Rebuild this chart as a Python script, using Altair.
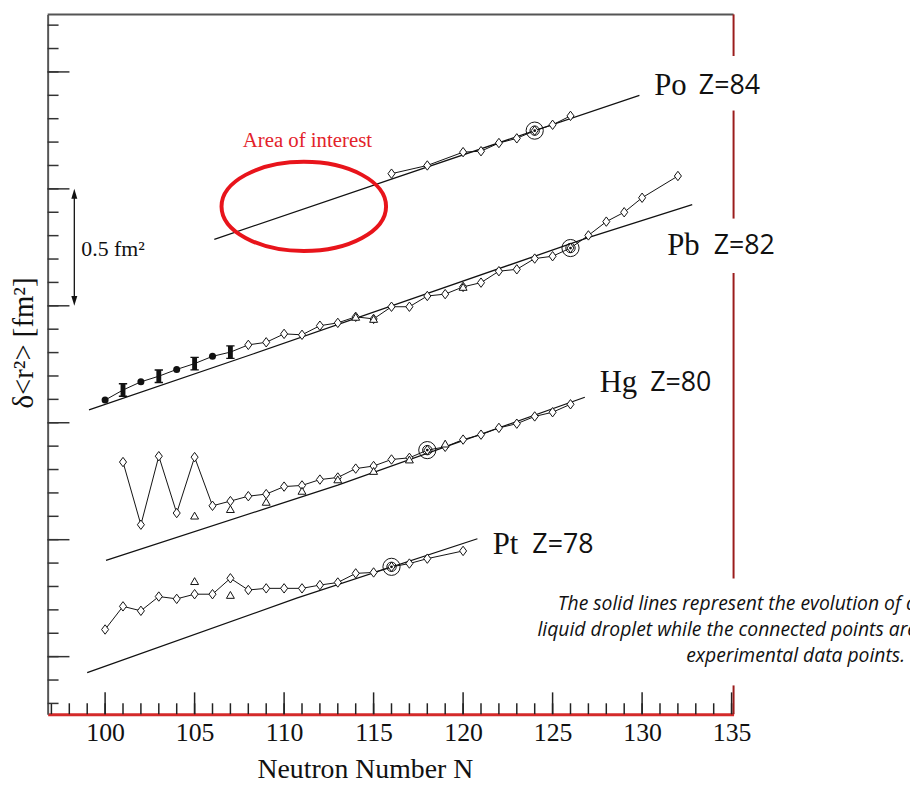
import altair as alt
import pandas as pd

# ---------------- data (delta<r^2>, fm^2, arbitrary offset) ----------------
po_n = [116, 118, 120, 121, 122, 123, 124, 125, 126]
po_v = [2.065, 2.100, 2.157, 2.161, 2.196, 2.216, 2.249, 2.274, 2.312]

pb_n = list(range(100, 131)) + [132]
pb_v = [1.097, 1.140, 1.175, 1.199, 1.228, 1.253, 1.284, 1.302, 1.333, 1.344,
        1.380, 1.376, 1.415, 1.427, 1.453, 1.444, 1.496, 1.496, 1.542, 1.550,
        1.581, 1.599, 1.648, 1.656, 1.702, 1.712, 1.747, 1.801, 1.860, 1.900,
        1.962, 2.055]
pb_circle_n = [100, 102, 104, 106]
pb_bar_n = [101, 103, 105, 107]
pb_tri_n = [114, 115, 120]

hg_n = list(range(101, 127))
hg_v = [0.832, 0.564, 0.857, 0.614, 0.853, 0.645, 0.665, 0.686, 0.695, 0.727,
        0.732, 0.757, 0.766, 0.804, 0.815, 0.843, 0.850, 0.883, 0.897, 0.928,
        0.949, 0.978, 0.996, 1.027, 1.045, 1.079]
hg_tri_n = [105, 107, 109, 111, 113, 115, 117, 119]
hg_tri_v = [0.603, 0.631, 0.662, 0.709, 0.758, 0.794, 0.843, 0.911]

pt_n = list(range(100, 119)) + [120]
pt_v = [0.116, 0.215, 0.196, 0.257, 0.247, 0.267, 0.267, 0.335, 0.285, 0.292,
        0.292, 0.292, 0.306, 0.317, 0.356, 0.360, 0.384, 0.398, 0.419, 0.452]
pt_tri_n = [105, 107]
pt_tri_v = [0.323, 0.264]

ref_chain = ["Pt", "Hg", "Pb", "Po"]
ref_n = [116, 118, 126, 124]

# liquid-drop curves
ld_po_n = [106.1, 116.0, 129.85]
ld_po_v = [1.784, 2.042, 2.400]
ld_pb_n = [99.1, 108.3, 126.9, 132.8]
ld_pb_v = [1.055, 1.295, 1.789, 1.933]
ld_hg_n = [100.05, 113.0, 126.8]
ld_hg_v = [0.412, 0.733, 1.109]
ld_pt_n = [99.0, 110.7, 120.8]
ld_pt_v = [-0.068, 0.250, 0.504]

x_labels = [100, 105, 110, 115, 120, 125, 130, 135]
x_minor = list(range(97, 136))
y_minor = [-0.2, -0.1, 0.0, 0.1, 0.2, 0.3, 0.4, 0.5, 0.6, 0.7, 0.8, 0.9, 1.0, 1.1, 1.2,
           1.3, 1.4, 1.5, 1.6, 1.7, 1.8, 1.9, 2.0, 2.1, 2.2, 2.3, 2.4, 2.5, 2.6, 2.7]
y_major = [0.0, 0.5, 1.0, 1.5, 2.0, 2.5]

# ---------------- tables ----------------
def chain_df(name, n, v):
    return pd.DataFrame({"chain": name, "N": n, "v": v})

exp = pd.concat([chain_df("Po", po_n, po_v), chain_df("Pb", pb_n, pb_v),
                 chain_df("Hg", hg_n, hg_v), chain_df("Pt", pt_n, pt_v)], ignore_index=True)
ld = pd.concat([chain_df("Po", ld_po_n, ld_po_v), chain_df("Pb", ld_pb_n, ld_pb_v),
                chain_df("Hg", ld_hg_n, ld_hg_v), chain_df("Pt", ld_pt_n, ld_pt_v)], ignore_index=True)

pb_special = exp[(exp.chain == "Pb") & (exp.N.isin(pb_circle_n + pb_bar_n))]
diam = exp.drop(pb_special.index)
circ = exp[(exp.chain == "Pb") & (exp.N.isin(pb_circle_n))]
bars = exp[(exp.chain == "Pb") & (exp.N.isin(pb_bar_n))]
tri = pd.concat([exp[(exp.chain == "Pb") & (exp.N.isin(pb_tri_n))][["chain", "N", "v"]],
                 chain_df("Hg", hg_tri_n, hg_tri_v), chain_df("Pt", pt_tri_n, pt_tri_v)],
                ignore_index=True)
refs = pd.concat([exp[(exp.chain == c) & (exp.N == n)] for c, n in zip(ref_chain, ref_n)])

# ---------------- scales / axes ----------------
xs = alt.Scale(domain=[96.79, 135.11], nice=False, zero=False)
ys = alt.Scale(domain=[-0.246, 2.746], nice=False, zero=False)
x_axis = alt.Axis(values=x_labels, ticks=False, grid=False, domainColor="#d42a2a", domainWidth=3,
                  labelFont="Liberation Serif", labelFontSize=26, labelColor="#111",
                  labelPadding=6, labelOverlap=False, labelFlush=False,
                  title="Neutron Number N", titleFont="Liberation Serif", titleFontSize=28,
                  titleFontWeight="normal", titleColor="#111", titleX=320, titleY=64,
                  titleAlign="center", titleBaseline="alphabetic")
y_axis = alt.Axis(labels=False, ticks=False, grid=False, domainColor="#555", domainWidth=2,
                  title="δ<r²> [fm²]", titleFont="Liberation Serif", titleFontSize=29,
                  titleFontWeight="normal", titleColor="#111", titleX=-24, titleY=331,
                  titleAngle=270, titleAlign="center", titleBaseline="middle")
X = alt.X("N:Q", scale=xs, axis=x_axis)
Y = alt.Y("v:Q", scale=ys, axis=y_axis)

ld_layer = alt.Chart(ld).mark_line(color="#111", strokeWidth=1.3).encode(x=X, y=Y, detail="chain:N")
exp_layer = alt.Chart(exp).mark_line(color="#111", strokeWidth=1).encode(x=X, y=Y, detail="chain:N")
diamond_shape = "M0,-1 L0.75,0 L0,1 L-0.75,0 Z"
diam_layer = alt.Chart(diam).mark_point(shape=diamond_shape, size=90, filled=True, fill="white",
                                        stroke="#111", strokeWidth=1, opacity=1).encode(x=X, y=Y)
tri_layer = alt.Chart(tri).mark_point(shape="triangle-up", size=64, filled=True, fill="white",
                                      stroke="#111", strokeWidth=1, opacity=1).encode(x=X, y=Y)
circ_layer = alt.Chart(circ).mark_point(shape="circle", size=50, filled=True, color="#111",
                                        opacity=1).encode(x=X, y=Y)
bar_layer = alt.Chart(bars).mark_point(
    shape="M-0.6,-1 L0.6,-1 L0.6,-0.8 L0.35,-0.8 L0.35,0.8 L0.6,0.8 L0.6,1 L-0.6,1 L-0.6,0.8 L-0.35,0.8 L-0.35,-0.8 L-0.6,-0.8 Z",
    size=196, filled=True, color="#111", opacity=1).encode(x=X, y=Y)
ref_outer = alt.Chart(refs).mark_point(shape="circle", size=300, filled=False, stroke="#111",
                                       strokeWidth=1, opacity=1).encode(x=X, y=Y)
ref_inner = alt.Chart(refs).mark_point(shape="circle", size=90, filled=False, stroke="#111",
                                       strokeWidth=1, opacity=1).encode(x=X, y=Y)
ref_dot = alt.Chart(refs).mark_point(shape="circle", size=8, filled=True, color="#111",
                                     opacity=1).encode(x=X, y=Y)

# inward ticks
xt_minor = alt.Chart(pd.DataFrame({"N": x_minor})).mark_rule(color="#222", strokeWidth=1.5).encode(
    x=X, y=alt.value(706), y2=alt.value(695))
xt_major = alt.Chart(pd.DataFrame({"N": x_labels})).mark_rule(color="#222", strokeWidth=1.5).encode(
    x=X, y=alt.value(706), y2=alt.value(684))
yt_minor = alt.Chart(pd.DataFrame({"v": y_minor})).mark_rule(color="#333", strokeWidth=1.5).encode(
    y=Y, x=alt.value(0), x2=alt.value(11))
yt_major = alt.Chart(pd.DataFrame({"v": y_major})).mark_rule(color="#333", strokeWidth=1.5).encode(
    y=Y, x=alt.value(0), x2=alt.value(22))

one = pd.DataFrame({"a": [0]})
top_border = alt.Chart(one).mark_rule(color="#555", strokeWidth=2).encode(
    x=alt.value(0), x2=alt.value(692), y=alt.value(0))
right_segs = [alt.Chart(one).mark_rule(color="#9b1c1c", strokeWidth=2).encode(
    x=alt.value(692), y=alt.value(a), y2=alt.value(b)) for a, b in [(0, 42), (97, 206), (261, 569), (677, 706)]]


def label(text, n, v, font="Liberation Serif", size=31, align="left", color="#111", **kw):
    return alt.Chart(one).mark_text(text=text, font=font, fontSize=size, align=align,
                                    baseline="middle", color=color, **kw).encode(
        x=alt.datum(n), y=alt.datum(v))


labels = [
    label("Po", 130.68, 2.441), label("Z=84", 133.17, 2.441, font="Open Sans", size=27),
    label("Pb", 131.40, 1.754), label("Z=82", 134.0, 1.754, font="Open Sans", size=27),
    label("Hg", 127.63, 1.169), label("Z=80", 130.45, 1.169, font="Open Sans", size=27),
    label("Pt", 121.65, 0.475), label("Z=78", 123.87, 0.475, font="Open Sans", size=27),
    label("Area of interest", 111.3, 2.203, size=21, align="center", color="#e3222a"),
    label("0.5 fm²", 98.67, 1.742, size=22),
]

ellipse = alt.Chart(one).mark_point(
    shape="M-1,0 A1,0.542 0 1,0 1,0 A1,0.542 0 1,0 -1,0 Z", size=27556, filled=False,
    stroke="#e8141b", strokeWidth=4, opacity=1).encode(x=alt.datum(111.1), y=alt.datum(1.925))

arrow_line = alt.Chart(one).mark_rule(color="#111", strokeWidth=1.3).encode(
    x=alt.datum(98.28), y=alt.datum(1.98), y2=alt.datum(1.52))
head_up = alt.Chart(one).mark_point(shape="M0,-1 L0.6,1 L-0.6,1 Z", size=100, filled=True,
                                    color="#111", opacity=1).encode(x=alt.datum(98.28), y=alt.datum(1.979))
head_dn = alt.Chart(one).mark_point(shape="M0,1 L0.6,-1 L-0.6,-1 Z", size=100, filled=True,
                                    color="#111", opacity=1).encode(x=alt.datum(98.28), y=alt.datum(1.521))

note_lines = [("The solid lines represent the evolution of a", 877, 601),
              ("liquid droplet while the connected points are", 877, 627),
              ("experimental data points.", 865, 653)]
notes = [alt.Chart(one).mark_text(text=t, font="Open Sans", fontSize=19.5, fontStyle="italic",
                                  align="right", baseline="alphabetic", color="#111").encode(
    x=alt.value(px), y=alt.value(py)) for t, px, py in note_lines]

chart = alt.layer(
    ld_layer, exp_layer, diam_layer, tri_layer, circ_layer, bar_layer,
    ref_outer, ref_inner, ref_dot,
    xt_minor, xt_major, yt_minor, yt_major, top_border, *right_segs,
    *labels, ellipse, arrow_line, head_up, head_dn, *notes
).properties(
    width=692, height=706,
    padding={"left": 40, "top": 3, "right": 178, "bottom": 67},
    autosize=alt.AutoSizeParams(type="none"),
    background="white",
).configure_view(stroke=None)

chart.save("out.html", embed_options={"renderer": "svg", "actions": False})
